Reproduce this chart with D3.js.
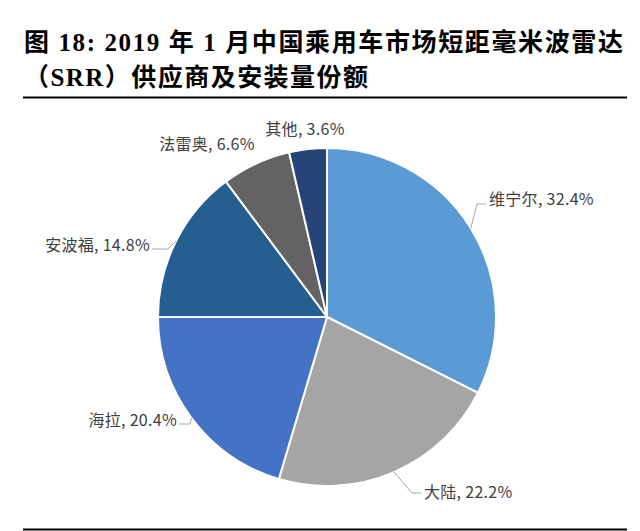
<!DOCTYPE html>
<html>
<head>
<meta charset="utf-8">
<script src="https://cdn.jsdelivr.net/npm/d3@7"></script>
<style>
  body { margin: 0; background: #fff; }
  svg { display: block; }
</style>
</head>
<body>
<svg id="chart" width="640" height="531"></svg>
<script>
// data
var suppliers = ["维宁尔", "大陆", "海拉", "安波福", "法雷奥", "其他"];
var shares = [32.4, 22.2, 20.4, 14.8, 6.6, 3.6];
var sliceColors = ["#5b9bd5", "#a5a5a5", "#4472c4", "#255e91", "#636363", "#264478"];

// label placement (elbow, end of leader, text anchor)
var labelLayout = [
	{ elbow: [477, 204], end: [486, 204], tx: 489, ty: 205, anchor: "start" },
	{ elbow: [412, 493], end: [421, 493], tx: 424, ty: 498, anchor: "start" },
	{ elbow: [190, 424], end: [179, 424], tx: 177, ty: 426, anchor: "end" },
	{ elbow: [168, 249], end: [152, 249], tx: 150, ty: 251, anchor: "end" },
	{ elbow: null, end: null, tx: 207, ty: 150, anchor: "middle" },
	{ elbow: null, end: null, tx: 305, ty: 135, anchor: "middle" }
];

var svg = d3.select("#chart");

// título
var titleFont = "'Liberation Serif', 'Times New Roman', 'Noto Sans CJK SC', serif";
svg.append("text")
	.attr("x", 24).attr("y", 51)
	.attr("textLength", 599).attr("lengthAdjust", "spacing")
	.style("font-family", titleFont).style("font-size", "25px").style("font-weight", "bold")
	.text("图 18: 2019 年 1 月中国乘用车市场短距毫米波雷达");
svg.append("text")
	.attr("x", 24).attr("y", 86)
	.attr("textLength", 344).attr("lengthAdjust", "spacing")
	.style("font-family", titleFont).style("font-size", "25px").style("font-weight", "bold")
	.text("（SRR）供应商及安装量份额");

// linhas
svg.append("line").attr("x1", 23).attr("x2", 627).attr("y1", 97.5).attr("y2", 97.5)
	.attr("stroke", "#000").attr("stroke-width", 2);
svg.append("line").attr("x1", 23).attr("x2", 627).attr("y1", 529.5).attr("y2", 529.5)
	.attr("stroke", "#000").attr("stroke-width", 2);

// pizza
var cx = 327, cy = 317, radius = 169;

var pie = d3.pie().sort(null).value(function(d) { return d; });
var arcs = pie(shares);

var arc = d3.arc().innerRadius(0).outerRadius(radius);
var edge = d3.arc().innerRadius(radius).outerRadius(radius);

var g = svg.append("g").attr("transform", "translate(" + cx + "," + cy + ")");

g.selectAll("path")
	.data(arcs)
	.enter()
	.append("path")
	.attr("d", arc)
	.attr("fill", function(d, i) { return sliceColors[i]; })
	.attr("stroke", "#fff")
	.attr("stroke-width", 2)
	.attr("stroke-linejoin", "round");

// linhas de chamada
arcs.forEach(function(d, i) {
	var lay = labelLayout[i];
	if (!lay.elbow) return;
	var p = edge.centroid(d);
	var pts = [[p[0] + cx, p[1] + cy], lay.elbow, lay.end];
	svg.append("path")
		.attr("d", d3.line()(pts))
		.attr("fill", "none")
		.attr("stroke", "#a6a6a6")
		.attr("stroke-width", 1);
});

// rótulos
svg.selectAll("text.lbl")
	.data(arcs)
	.enter()
	.append("text")
	.attr("class", "lbl")
	.attr("x", function(d, i) { return labelLayout[i].tx; })
	.attr("y", function(d, i) { return labelLayout[i].ty; })
	.attr("text-anchor", function(d, i) { return labelLayout[i].anchor; })
	.style("font-family", "'Noto Sans CJK SC', 'Noto Sans', sans-serif")
	.style("font-size", "16px")
	.style("letter-spacing", "0.3px")
	.style("fill", "#404040")
	.text(function(d, i) { return suppliers[i] + ", " + shares[i].toFixed(1) + "%"; });
</script>
</body>
</html>
